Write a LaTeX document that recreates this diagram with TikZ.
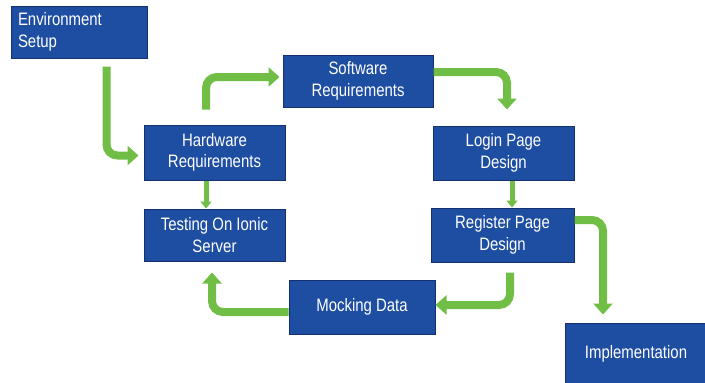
\documentclass[tikz,border=0pt]{standalone}
\usepackage{fontspec}
\setmainfont[FakeStretch=0.83]{Liberation Sans}
\usetikzlibrary{arrows.meta,calc}
\definecolor{boxblue}{RGB}{30,78,162}
\definecolor{boxedge}{RGB}{22,48,110}
\definecolor{flowgreen}{RGB}{112,190,70}
\tikzset{
  stepbox/.style={draw=boxedge, line width=1pt, fill=boxblue, text=white, align=center,
    inner sep=0pt, font=\fontsize{18}{21.5}\selectfont},
  flow/.style={draw=flowgreen, line width=8pt, rounded corners=11pt,
    -{Triangle[width=19pt,length=11pt]}},
  thinflow/.style={draw=flowgreen, line width=5pt,
    -{Triangle[width=11pt,length=7pt]}}
}
\begin{document}
\begin{tikzpicture}[x=1pt,y=-1pt]
\useasboundingbox (0,0) rectangle (705,383);
\node[stepbox, minimum width=136pt, minimum height=52pt, text width=122pt, align=left] (env) at (79,32) {Environment\\Setup};
\node[stepbox, minimum width=141pt, minimum height=55pt] (hw) at (214.5,152.5) {Hardware\\Requirements};
\node[stepbox, minimum width=150pt, minimum height=52pt] (sw) at (358,81) {Software\\Requirements};
\node[stepbox, minimum width=141pt, minimum height=54pt] (login) at (503.5,153) {Login Page\\Design};
\node[stepbox, minimum width=141pt, minimum height=52pt] (test) at (214.5,235) {Testing On Ionic\\Server};
\node[stepbox, minimum width=146pt, minimum height=54pt] (mock) at (362,307) {Mocking Data};
\node[stepbox, minimum width=143pt, minimum height=54pt] (reg) at (502.5,235) {Register Page\\Design};
\node[stepbox, minimum width=142pt, minimum height=62pt] (impl) at (636,354) {Implementation};

\draw[flow, shorten >=5pt] ($(env.south west)+(96,8)$) |- ($(hw.west)+(0,3)$);
\draw[flow, shorten >=3pt] ($(hw.north)+(-8.5,-15)$) |- ($(sw.west)+(0,-4)$);
\draw[flow] ($(sw.east)+(0,-9)$) -| ($(login.north)+(3.5,-16)$);
\draw[thinflow] ($(login.south)+(8.5,0)$) -- ($(reg.north)+(9.5,0)$);
\draw[thinflow] ($(hw.south)+(-8.5,0)$) -- ($(test.north)+(-8.5,0)$);
\draw[flow] ($(reg.south)+(7.5,10)$) |- ($(mock.east)+(0,-2)$);
\draw[flow] ($(mock.west)+(0,5)$) -| ($(test.south)+(-2.5,11)$);
\draw[flow] ($(reg.east)+(0,-15)$) -| ($(impl.north)+(-33,-8)$);
\end{tikzpicture}
\end{document}
